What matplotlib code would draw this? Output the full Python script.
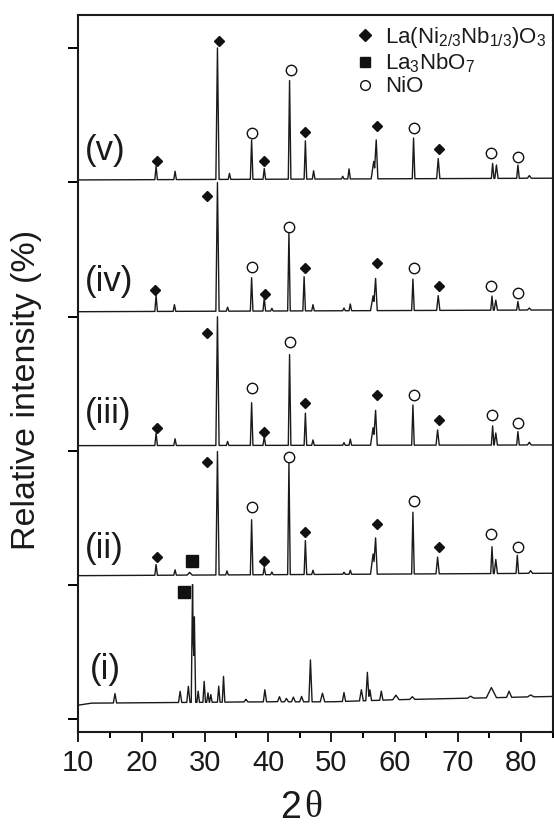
import numpy as np
import matplotlib
matplotlib.use("Agg")
import matplotlib.pyplot as plt
from matplotlib.ticker import MultipleLocator, NullFormatter

plt.rcParams['font.family'] = ['Liberation Sans', 'DejaVu Sans']
plt.rcParams['mathtext.fontset'] = 'custom'
plt.rcParams['mathtext.rm'] = 'Liberation Sans'
plt.rcParams['mathtext.it'] = 'Liberation Sans:italic'
plt.rcParams['mathtext.bf'] = 'Liberation Sans:bold'

# ---------------- data ----------------
# baseline anchors (2theta, level) and peaks (2theta, height, half-width)
i_base_x = [10, 12, 40, 50, 60, 85]
i_base_y = [10.5, 12.0, 13.0, 13.0, 14.5, 17.0]
i_pos = [15.8, 26.1, 27.4, 28.06, 28.35, 28.95, 29.9, 30.5, 30.95, 32.2, 32.96, 36.5,
         39.5, 41.8, 42.9, 44.0, 45.3, 46.7, 48.6, 52.0, 54.75, 55.7, 56.1, 57.9,
         60.2, 62.8, 72.0, 75.3, 78.1, 81.5]
i_h = [7, 8.3, 12, 87.8, 63.7, 8.3, 15.6, 7, 5.7, 11.9, 19.2, 2,
       9, 3.8, 2.5, 3.5, 4, 31.2, 6.4, 6.6, 8.3, 21.1, 8, 6.8,
       3.4, 2, 1.5, 7.6, 4.6, 1.5]
i_w = [0.25, 0.25, 0.25, 0.2, 0.2, 0.2, 0.2, 0.2, 0.2, 0.2, 0.2, 0.3,
       0.25, 0.3, 0.3, 0.3, 0.3, 0.25, 0.35, 0.25, 0.3, 0.25, 0.25, 0.25,
       0.5, 0.4, 0.5, 0.8, 0.4, 0.5]

ii_base_x = [10, 85]
ii_base_y = [107.0, 108.8]
ii_pos = [22.3, 25.3, 27.6, 32.0, 33.5, 37.4, 39.4, 40.6, 43.3, 45.9, 47.1, 52.0, 53.0,
          56.6, 57.0, 62.9, 66.8, 75.4, 76.0, 79.4, 81.5]
ii_h = [8, 4, 2, 92.0, 3, 41, 5.5, 2, 83.5, 25.3, 3.2, 1.5, 3,
        15, 27, 46, 12.5, 20, 10.5, 13.5, 2]
ii_w = [0.2, 0.2, 0.4, 0.25, 0.2, 0.2, 0.2, 0.2, 0.2, 0.2, 0.2, 0.2, 0.2,
        0.4, 0.25, 0.2, 0.25, 0.2, 0.25, 0.2, 0.3]

iii_base_x = [10, 85]
iii_base_y = [203.9, 204.4]
iii_pos = [22.3, 25.3, 32.0, 33.6, 37.4, 39.4, 43.4, 45.9, 47.1, 52.0, 53.0,
           56.6, 57.0, 62.9, 66.8, 75.5, 76.0, 79.5, 81.3]
iii_h = [9.2, 5, 95.9, 3, 31.8, 6.7, 67.6, 24, 4, 2, 4.6,
         13, 26, 30, 11.3, 14.3, 9, 10, 2]
iii_w = [0.2, 0.2, 0.25, 0.2, 0.2, 0.2, 0.2, 0.2, 0.2, 0.2, 0.2,
         0.4, 0.25, 0.2, 0.25, 0.2, 0.25, 0.2, 0.3]

iv_base_x = [10, 85]
iv_base_y = [303.7, 305.0]
iv_pos = [22.3, 25.2, 32.0, 33.6, 37.4, 39.4, 40.6, 43.3, 45.7, 47.1, 52.0, 53.0,
          56.6, 57.0, 62.9, 66.9, 75.4, 76.0, 79.5, 81.3]
iv_h = [12, 5, 95.9, 3, 24.9, 10, 2, 58.4, 25.5, 4.6, 2, 5,
        11, 24, 23.4, 11, 10.5, 7.5, 6.4, 1.5]
iv_w = [0.2, 0.2, 0.25, 0.2, 0.2, 0.2, 0.2, 0.2, 0.2, 0.2, 0.2, 0.2,
        0.4, 0.25, 0.2, 0.25, 0.2, 0.25, 0.2, 0.3]

v_base_x = [10, 85]
v_base_y = [401.9, 403.2]
v_pos = [22.3, 25.3, 32.0, 33.9, 37.4, 39.4, 43.4, 45.9, 47.2, 51.8, 52.8,
         56.7, 57.1, 63.0, 66.9, 75.5, 76.1, 79.5, 81.3]
v_h = [9.9, 6.2, 98, 4.5, 29.3, 8, 73.5, 28.5, 6.2, 2, 7.5,
       13, 29, 30.3, 14.9, 11.2, 10, 9.9, 2]
v_w = [0.2, 0.2, 0.25, 0.2, 0.2, 0.2, 0.2, 0.2, 0.2, 0.2, 0.2,
       0.4, 0.25, 0.2, 0.25, 0.2, 0.25, 0.2, 0.3]

# phase markers (2theta, y)
lnn_x = [22.45, 32.2, 39.3, 45.9, 57.2, 67.0,
         22.2, 30.4, 39.5, 45.9, 57.2, 67.0,
         22.5, 30.4, 39.4, 45.9, 57.2, 67.0,
         22.4, 30.4, 39.4, 45.9, 57.2, 67.0]
lnn_y = [416.2, 505.7, 415.9, 437.4, 442.1, 425.0,
         319.9, 389.9, 316.9, 336.5, 339.8, 323.1,
         216.8, 287.6, 214.3, 235.5, 241.7, 223.0,
         121.2, 191.5, 118.0, 139.3, 145.5, 128.6]
lno_x = [28.0, 26.7]
lno_y = [118.0, 95.1]
nio_x = [37.5, 43.7, 63.0, 75.3, 79.5,
         37.5, 43.3, 63.0, 75.2, 79.5,
         37.5, 43.5, 63.0, 75.4, 79.5,
         37.5, 43.3, 63.0, 75.3, 79.5]
nio_y = [437.1, 483.8, 440.8, 422.2, 419.2,
         337.3, 367.1, 336.5, 322.9, 317.9,
         246.6, 281.4, 241.7, 226.8, 220.6,
         158.0, 195.7, 162.7, 137.9, 128.6]

trace_labels = ['(i)', '(ii)', '(iii)', '(iv)', '(v)']
label_x = [11.8, 11.1, 11.1, 11.1, 11.1]
label_y = [37.4, 126.9, 228.2, 326.1, 424.2]

legend_labels = [r'La(Ni$_{\mathregular{2/3}}$Nb$_{\mathregular{1/3}}$)O$_{\mathregular{3}}$',
                 r'La$_{\mathregular{3}}$NbO$_{\mathregular{7}}$',
                 'NiO']

x_ticks = [10, 20, 30, 40, 50, 60, 70, 80]
y_ticks = [0, 100, 200, 300, 400, 500]

# ---------------- figure ----------------
fig = plt.figure(figsize=(5.54, 8.25), dpi=100)
ax = fig.add_axes([0.1413, 0.1124, 0.8564, 0.8694])

grid = np.arange(10, 85.001, 0.01)

def trace(bx, by, pos, h, w):
    y = np.interp(grid, bx, by)
    for p, hh, ww in zip(pos, h, w):
        y = y + hh * np.clip(1 - np.abs(grid - p) / ww, 0, None)
    return y

traces = [
    (i_base_x, i_base_y, i_pos, i_h, i_w),
    (ii_base_x, ii_base_y, ii_pos, ii_h, ii_w),
    (iii_base_x, iii_base_y, iii_pos, iii_h, iii_w),
    (iv_base_x, iv_base_y, iv_pos, iv_h, iv_w),
    (v_base_x, v_base_y, v_pos, v_h, v_w),
]
for t in traces:
    ax.plot(grid, trace(*t), color='#1a1a1a', lw=1.0)

ax.plot(lnn_x, lnn_y, ls='none', marker='D', ms=5.6, color='#111111')
ax.plot(lno_x, lno_y, ls='none', marker='s', ms=8.5, color='#111111')
ax.plot(nio_x, nio_y, ls='none', marker='o', ms=7.5, mfc='white', mec='#111111', mew=1.0)

for lab, lx, ly in zip(trace_labels, label_x, label_y):
    ax.text(lx, ly, lab, fontsize=25, ha='left', va='center', color='#1a1a1a')

# legend (placed in axes fraction)
leg_marker_x = 0.6044
leg_text_x = 0.6466
leg_rows_y = [0.9721, 0.9349, 0.9021]
leg_base_y = [0.9605, 0.9247, 0.8931]
leg_styles = [dict(marker='D', ms=6.0, color='#111111'),
              dict(marker='s', ms=7.2, color='#111111'),
              dict(marker='o', ms=7.0, mfc='white', mec='#111111', mew=1.0)]
for lab, ry, by, st in zip(legend_labels, leg_rows_y, leg_base_y, leg_styles):
    ax.plot([leg_marker_x], [ry], ls='none', transform=ax.transAxes, **st)
    ax.text(leg_text_x, by, lab, transform=ax.transAxes, fontsize=16,
            ha='left', va='baseline', color='#1a1a1a')

ax.set_xlim(10, 85)
ax.set_ylim(-9.7, 524.8)
ax.set_xticks(x_ticks)
ax.xaxis.set_minor_locator(MultipleLocator(5))
ax.set_yticks(y_ticks)
ax.yaxis.set_major_formatter(NullFormatter())
ax.tick_params(axis='x', which='major', direction='out', length=7.2, width=1.4,
               labelsize=21, pad=5, colors='#1a1a1a')
ax.tick_params(axis='x', which='minor', direction='out', length=4.3, width=1.4)
ax.tick_params(axis='y', which='major', direction='out', length=7.2, width=1.4)
for s in ax.spines.values():
    s.set_linewidth(1.5)
    s.set_color('#1a1a1a')

fig.text(27 / 554, 1 - 390 / 825, 'Relative intensity (%)', rotation=90,
         ha='center', va='center', fontsize=24.5, color='#1a1a1a')
fig.text(301.5 / 554, 1 - 808 / 825, '2', ha='right', va='center', fontsize=27, color='#1a1a1a')
fig.text(304.5 / 554, 1 - 808 / 825, '\u03b8', ha='left', va='center', fontsize=27,
         family=['Liberation Serif'], color='#1a1a1a')

fig.savefig('out.png', dpi=100)
